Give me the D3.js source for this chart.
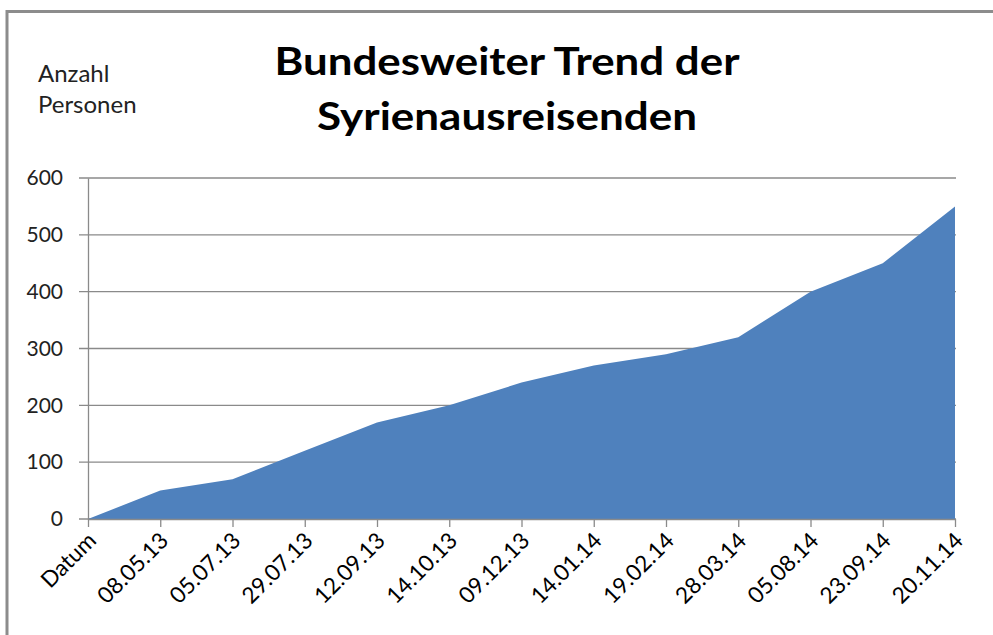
<!DOCTYPE html>
<html>
<head>
<meta charset="utf-8">
<script src="https://cdn.jsdelivr.net/npm/d3@7"></script>
<style>
  body { margin: 0; background: #fff; }
  svg { display: block; }
  svg text { font-family: Lato, "Open Sans", sans-serif; }
</style>
</head>
<body>
<div id="chart"></div>
<script>
const dates = ['Datum', '08.05.13', '05.07.13', '29.07.13', '12.09.13', '14.10.13', '09.12.13',
   '14.01.14', '19.02.14', '28.03.14', '05.08.14', '23.09.14', '20.11.14']
const persons = [0, 50, 70, 120, 170, 200, 240, 270, 290, 320, 400, 450, 550]
const yTicks = [0, 100, 200, 300, 400, 500, 600]
const titleLines = ['Bundesweiter Trend der', 'Syrienausreisenden']
const yLabelLines = ['Anzahl', 'Personen']

const width = 993
const height = 635
const margin = { top: 178, right: 38, bottom: 116, left: 88 }

const svg = d3.select('#chart')
   .append('svg')
   .attr('width', width)
   .attr('height', height)

// frame
svg.append('path')
   .attr('d', `M7,${height} V11.5 H${width}`)
   .attr('fill', 'none')
   .attr('stroke', '#8c8c8c')
   .attr('stroke-width', 3)

const x = d3.scalePoint()
   .domain(dates)
   .range([margin.left, width - margin.right])

const y = d3.scaleLinear()
   .domain([0, 600])
   .range([height - margin.bottom, margin.top])

// gridlines
svg.append('g')
   .selectAll('line')
   .data(yTicks)
   .join('line')
   .attr('x1', margin.left - 9)
   .attr('x2', width - margin.right + 1)
   .attr('y1', d => y(d))
   .attr('y2', d => y(d))
   .attr('stroke', '#8a8a8a')
   .attr('stroke-width', 1.3)

// area
const area = d3.area()
   .x((d, i) => x(dates[i]))
   .y0(y(0))
   .y1(d => y(d))

svg.append('path')
   .datum(persons)
   .attr('d', area)
   .attr('fill', '#4f81bd')

// y axis
const yAxis = svg.append('g')
   .attr('transform', `translate(${margin.left},0)`)
   .call(d3.axisLeft(y).tickValues(yTicks).tickSize(0).tickPadding(25))
yAxis.attr('font-family', null)
yAxis.select('.domain').attr('stroke', '#8a8a8a').attr('stroke-width', 1.3)
yAxis.selectAll('text')
   .attr('font-size', 21)
   .attr('fill', '#222')

// x axis
const xAxis = svg.append('g')
   .attr('transform', `translate(0,${y(0)})`)
   .call(d3.axisBottom(x).tickSize(8).tickSizeOuter(0))
xAxis.attr('font-family', null)
xAxis.select('.domain').attr('stroke', '#8a8a8a').attr('stroke-width', 1.3)
xAxis.selectAll('.tick line').attr('stroke', '#8a8a8a').attr('stroke-width', 1.3)
xAxis.selectAll('text')
   .attr('font-size', 22.5)
   .attr('fill', '#000')
   .attr('text-anchor', 'end')
   .attr('dy', null)
   .attr('y', null)
   .attr('transform', 'translate(9,23) rotate(-45)')

// title
const titleWidths = [465, 380]
svg.append('g')
   .selectAll('text')
   .data(titleLines)
   .join('text')
   .attr('x', 507)
   .attr('y', (d, i) => 75 + i * 55)
   .attr('text-anchor', 'middle')
   .attr('font-size', 39)
   .attr('font-weight', 'bold')
   .attr('fill', '#000')
   .attr('textLength', (d, i) => titleWidths[i])
   .attr('lengthAdjust', 'spacingAndGlyphs')
   .text(d => d)

// axis caption
svg.append('g')
   .selectAll('text')
   .data(yLabelLines)
   .join('text')
   .attr('x', 38)
   .attr('y', (d, i) => 82 + i * 31)
   .attr('font-size', 24)
   .attr('fill', '#222')
   .text(d => d)
</script>
</body>
</html>
